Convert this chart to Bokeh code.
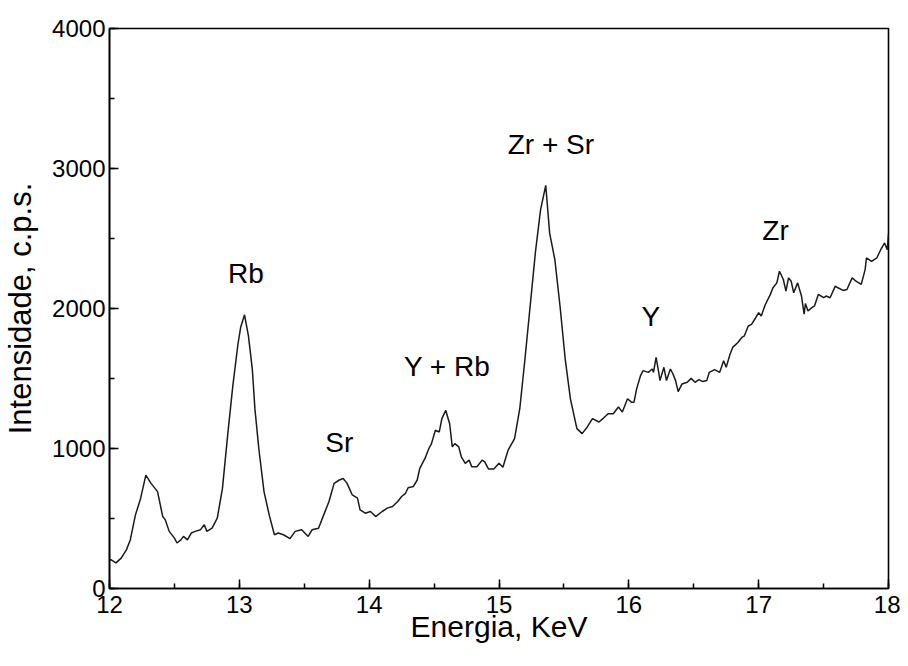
from bokeh.plotting import figure
from bokeh.models import Range1d, SingleIntervalTicker, ColumnDataSource
from bokeh.core.properties import value
from bokeh.embed import file_html
from bokeh.resources import INLINE

energy = [12.00, 12.01, 12.05, 12.09, 12.13, 12.16, 12.20, 12.24, 12.28, 12.32, 12.37, 12.41, 12.43, 12.46,
          12.50, 12.52, 12.55, 12.57, 12.60, 12.63, 12.66, 12.70, 12.73, 12.75, 12.79, 12.83, 12.87, 12.91,
          12.95, 12.99, 13.01, 13.04, 13.07, 13.10, 13.12, 13.15, 13.19, 13.23, 13.27, 13.30, 13.34, 13.39,
          13.43, 13.48, 13.53, 13.56, 13.61, 13.65, 13.69, 13.73, 13.77, 13.80, 13.83, 13.87, 13.91, 13.93,
          13.97, 14.01, 14.05, 14.10, 14.14, 14.18, 14.22, 14.25, 14.28, 14.30, 14.34, 14.37, 14.39, 14.43,
          14.46, 14.48, 14.51, 14.54, 14.56, 14.59, 14.62, 14.64, 14.66, 14.69, 14.71, 14.74, 14.77, 14.79,
          14.83, 14.87, 14.89, 14.92, 14.96, 15.00, 15.03, 15.07, 15.12, 15.16, 15.20, 15.24, 15.28, 15.32,
          15.36, 15.39, 15.43, 15.47, 15.51, 15.55, 15.60, 15.64, 15.68, 15.72, 15.77, 15.80, 15.84, 15.88,
          15.92, 15.95, 15.99, 16.02, 16.04, 16.06, 16.09, 16.11, 16.15, 16.18, 16.19, 16.21, 16.23, 16.24,
          16.27, 16.29, 16.32, 16.34, 16.36, 16.38, 16.41, 16.45, 16.48, 16.51, 16.54, 16.57, 16.60, 16.62,
          16.66, 16.70, 16.73, 16.75, 16.78, 16.80, 16.84, 16.87, 16.89, 16.92, 16.945, 16.97, 17.00, 17.02,
          17.05, 17.09, 17.11, 17.14, 17.16, 17.19, 17.21, 17.23, 17.25, 17.27, 17.30, 17.33, 17.35, 17.36,
          17.38, 17.41, 17.43, 17.46, 17.50, 17.52, 17.55, 17.59, 17.61, 17.65, 17.68, 17.72, 17.75, 17.79,
          17.82, 17.83, 17.87, 17.91, 17.94, 17.97, 17.99, 18.00]
counts = [200, 207, 183, 217, 276, 347, 526, 645, 810, 751, 692, 514, 490, 408,
          360, 325, 347, 372, 347, 396, 408, 419, 455, 408, 431, 502, 715, 1094,
          1449, 1750, 1864, 1955, 1804, 1567, 1283, 1000, 692, 526, 384, 396, 384, 356,
          408, 419, 372, 419, 431, 526, 620, 751, 775, 786, 751, 668, 645, 562,
          538, 550, 514, 550, 574, 586, 621, 657, 680, 720, 728, 775, 858, 929,
          1000, 1035, 1130, 1118, 1213, 1272, 1177, 1012, 1035, 1012, 941, 894, 917, 870,
          870, 917, 905, 853, 853, 894, 866, 988, 1071, 1284, 1639, 2018, 2397, 2704,
          2880, 2539, 2350, 2018, 1639, 1355, 1142, 1106, 1154, 1213, 1189, 1213, 1248, 1248,
          1296, 1260, 1355, 1331, 1331, 1426, 1520, 1556, 1544, 1568, 1544, 1651, 1544, 1485,
          1580, 1485, 1568, 1532, 1485, 1406, 1461, 1473, 1501, 1473, 1492, 1478, 1485, 1544,
          1563, 1544, 1627, 1580, 1675, 1722, 1757, 1793, 1805, 1875, 1887, 1923, 1970, 1947,
          2025, 2101, 2148, 2183, 2266, 2207, 2124, 2219, 2195, 2112, 2183, 2089, 1959, 2035,
          1982, 2006, 2018, 2101, 2077, 2089, 2077, 2160, 2148, 2129, 2136, 2219, 2195, 2172,
          2278, 2361, 2337, 2361, 2420, 2468, 2420, 2530]

peak_labels = ["Rb", "Sr", "Y + Rb", "Zr + Sr", "Y", "Zr"]
peak_label_x = [13.05, 13.77, 14.60, 15.40, 16.17, 17.13]
peak_label_y = [2250, 1045, 1587, 3168, 1946, 2557]

x_title = "Energia, KeV"
y_title = "Intensidade, c.p.s."

FONT = "Liberation Sans"

p = figure(width=900, height=650, output_backend="svg", toolbar_location=None,
           x_range=Range1d(12, 18), y_range=Range1d(0, 4000),
           min_border_left=107, min_border_right=12, min_border_top=28, min_border_bottom=62)
p.grid.visible = False
p.outline_line_color = "black"
p.outline_line_width = 1.6

p.line(energy, counts, line_color="#1a1a1a", line_width=1.5)

src = ColumnDataSource(dict(x=peak_label_x, y=peak_label_y, t=peak_labels))
p.text(x="x", y="y", text="t", source=src, text_align="center", text_baseline="middle",
       text_font=value(FONT), text_font_size="28px", text_color="black")

p.xaxis.ticker = SingleIntervalTicker(interval=1, num_minor_ticks=2)
p.yaxis.ticker = SingleIntervalTicker(interval=1000, num_minor_ticks=2)

for ax in (p.xaxis[0], p.yaxis[0]):
    ax.axis_line_width = 1.6
    ax.axis_line_color = "black"
    ax.major_tick_in = 9
    ax.major_tick_out = 0
    ax.minor_tick_in = 5
    ax.minor_tick_out = 0
    ax.major_tick_line_width = 1.5
    ax.minor_tick_line_width = 1.5
    ax.major_label_text_font = FONT
    ax.major_label_text_font_size = "24px"
    ax.major_label_text_color = "black"
    ax.axis_label_text_font = FONT
    ax.axis_label_text_font_style = "normal"
    ax.axis_label_text_color = "black"

p.xaxis.axis_label = x_title
p.xaxis.axis_label_text_font_size = "30px"
p.xaxis.major_label_standoff = 7
p.xaxis.axis_label_standoff = -6

p.yaxis.axis_label = y_title
p.yaxis.axis_label_text_font_size = "31px"
p.yaxis.major_label_standoff = 4
p.yaxis.axis_label_standoff = 11

open("out.html", "w").write(file_html(p, INLINE))
